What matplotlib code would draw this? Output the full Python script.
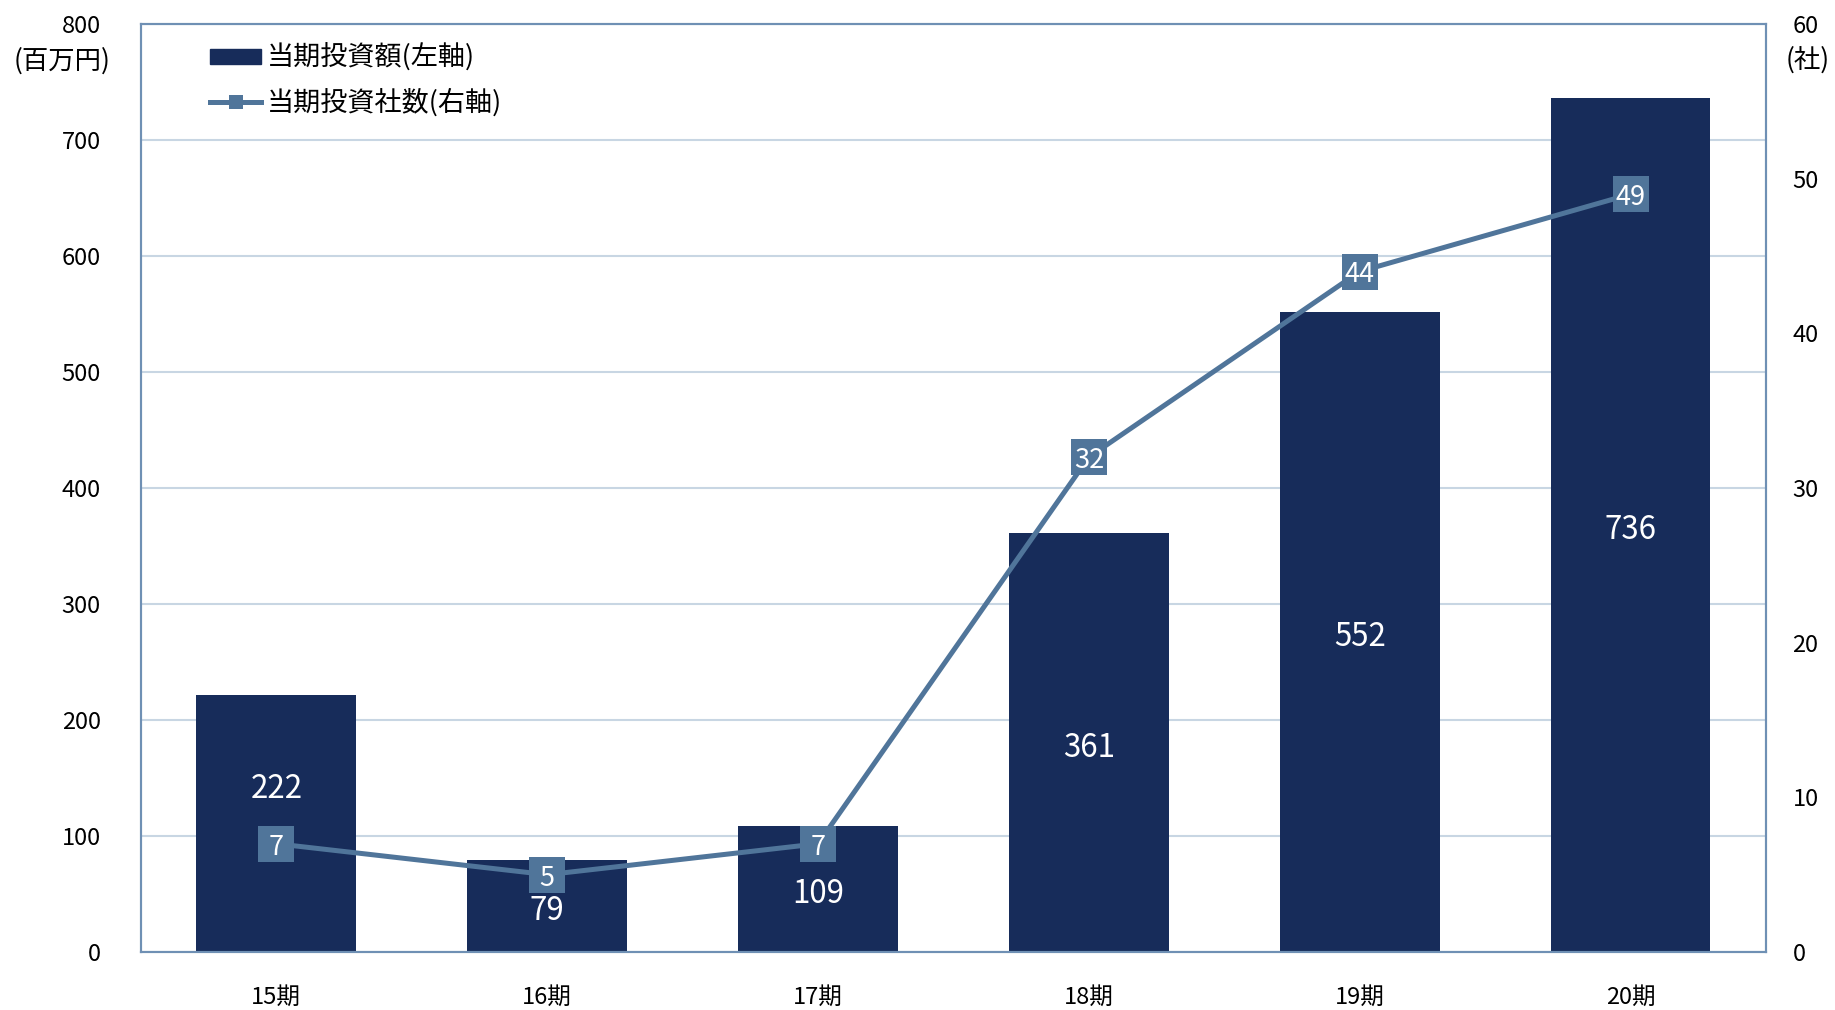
import matplotlib.pyplot as plt
from matplotlib.lines import Line2D
from matplotlib.patches import Patch

plt.rcParams['font.family'] = ['Noto Sans CJK JP', 'DejaVu Sans']

# 期ごとの投資額(百万円)と投資社数
periods = ['15期', '16期', '17期', '18期', '19期', '20期']
amounts = [222, 79, 109, 361, 552, 736]
companies = [7, 5, 7, 32, 44, 49]

bar_color = '#172c5a'
line_color = '#50759a'
frame_color = '#6f90b4'
grid_color = '#c8d6e3'

fig = plt.figure(figsize=(18.35, 10.10), dpi=100)
ax = fig.add_axes([0.0768, 0.0574, 0.8856, 0.9188])
ax2 = ax.twinx()

x = range(len(periods))
ax.bar(x, amounts, width=0.59, color=bar_color, zorder=2)
ax.set_xlim(-0.5, len(periods) - 0.5)
ax.set_ylim(0, 800)
ax.set_yticks(range(0, 801, 100))
ax.grid(axis='y', color=grid_color, lw=1.5, zorder=0)
ax.set_axisbelow(True)
ax.set_xticks(list(x))
ax.set_xticklabels(periods)
ax.tick_params(axis='x', length=0, pad=24.5, labelsize=17)
ax.tick_params(axis='y', length=0, pad=29, labelsize=17)

ax2.plot(x, companies, color=line_color, lw=3.6, marker='s', ms=26,
         mec=line_color, mew=0, zorder=3)
ax2.set_ylim(0, 60)
ax2.set_yticks(range(0, 61, 10))
ax2.tick_params(axis='y', length=0, pad=19, labelsize=17)

for a in (ax, ax2):
    for s in a.spines.values():
        s.set_color(frame_color)
        s.set_linewidth(1.5)

# 棒の中央に金額、マーカーと重なる場合は少し上へ
for i, (v, c) in enumerate(zip(amounts, companies)):
    y = v / 2
    dy = -3.5
    if abs(y - c * 800 / 60) < 20:
        dy = 25
    ax.annotate(str(v), (i, y), xytext=(0, dy), textcoords='offset points',
                ha='center', va='center', color='white', fontsize=22.5,
                zorder=4)

for i, c in enumerate(companies):
    ax2.annotate(str(c), (i, c), xytext=(0, -2.5), textcoords='offset points',
                 ha='center', va='center', color='white', fontsize=19.5,
                 zorder=5)

handles = [
    Patch(color=bar_color),
    Line2D([], [], color=line_color, lw=3.6, marker='s', ms=10, mew=0),
]
ax2.legend(handles, ['当期投資額(左軸)', '当期投資社数(右軸)'],
           loc='upper left', bbox_to_anchor=(0.0425, 0.979), frameon=False,
           fontsize=19.5, handlelength=1.9, handleheight=0.48,
           handletextpad=0.2, labelspacing=0.6, borderpad=0,
           borderaxespad=0)

fig.text(62 / 1835, 1 - 61 / 1010, '(百万円)', ha='center', va='center',
         fontsize=19)
fig.text(1808 / 1835, 1 - 60 / 1010, '(社)', ha='center', va='center',
         fontsize=19)

fig.savefig('out.png', dpi=100)
